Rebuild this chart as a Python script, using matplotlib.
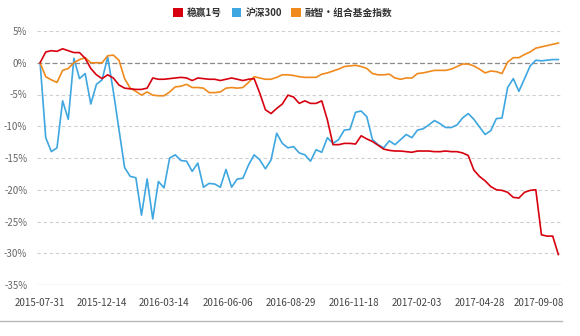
import matplotlib
matplotlib.use("Agg")
import matplotlib.pyplot as plt
from matplotlib.patches import Patch
from matplotlib.lines import Line2D

plt.rcParams['font.family'] = ['Noto Sans CJK SC', 'DejaVu Sans']

series_names = ["稳赢1号", "沪深300", "融智·组合基金指数"]

wenying = [0, 1.7, 1.9, 1.8, 2.2, 1.9, 1.6, 1.6, 0.7, -0.9,
           -1.9, -2.5, -1.9, -2.4, -3.5, -4.0, -4.1, -4.2, -4.2, -4.0,
           -2.4, -2.6, -2.6, -2.5, -2.4, -2.3, -2.4, -2.8, -2.4, -2.5,
           -2.6, -2.6, -2.8, -2.6, -2.4, -2.6, -2.8, -2.6, -2.5, -4.8,
           -7.4, -8.0, -7.2, -6.5, -5.1, -5.4, -6.4, -6.0, -6.4, -6.4,
           -6.0, -9.0, -12.9, -12.9, -12.7, -12.7, -12.8, -11.5, -12.0, -12.4,
           -13.0, -13.6, -13.8, -13.9, -13.9, -14.0, -14.1, -13.9, -13.9, -13.9,
           -14.0, -14.0, -13.9, -14.0, -14.0, -14.2, -14.6, -16.9, -17.9, -18.6,
           -19.5, -20.0, -20.1, -20.4, -21.2, -21.3, -20.4, -20.1, -20.0, -27.1,
           -27.3, -27.3, -30.2]

hs300 = [0, -11.8, -14.0, -13.4, -6.0, -8.9, 0.7, -2.5, -1.7, -6.5,
         -3.4, -2.7, 0.9, -4.5, -10.5, -16.5, -17.9, -18.1, -24.0, -18.3,
         -24.6, -18.7, -19.7, -15.0, -14.5, -15.4, -15.5, -17.1, -15.8, -19.6,
         -19.0, -19.1, -19.6, -16.8, -19.6, -18.3, -18.2, -16.1, -14.5, -15.3,
         -16.7, -15.3, -11.1, -12.7, -13.4, -13.2, -14.2, -14.5, -15.5, -13.7,
         -14.1, -11.8, -12.7, -12.1, -10.6, -10.5, -7.8, -7.6, -8.5, -12.1,
         -12.9, -13.4, -12.3, -12.9, -12.1, -11.3, -11.8, -10.6, -10.4, -9.8,
         -9.1, -9.6, -10.2, -10.2, -9.8, -8.7, -8.0, -8.9, -10.1, -11.3,
         -10.7, -8.8, -8.7, -3.9, -2.5, -4.5, -2.5, -0.5, 0.4, 0.3,
         0.4, 0.5, 0.5]

fof_index = [0, -2.2, -2.7, -3.1, -1.2, -0.9, 0, 0.5, 0.8, 0,
             0, 0, 1.1, 1.2, 0.4, -2.5, -4.0, -4.5, -5.1, -4.6,
             -5.1, -5.2, -5.2, -4.6, -3.8, -3.7, -3.4, -3.9, -3.9, -4.0,
             -4.7, -4.7, -4.6, -4.0, -3.9, -4.0, -3.9, -3.1, -2.2, -2.4,
             -2.6, -2.6, -2.3, -1.9, -1.9, -2.0, -2.2, -2.3, -2.3, -2.3,
             -1.8, -1.6, -1.3, -1.0, -0.6, -0.5, -0.4, -0.6, -0.9, -1.7,
             -1.9, -1.9, -1.8, -2.4, -2.6, -2.4, -2.4, -1.7, -1.6, -1.4,
             -1.2, -1.2, -1.2, -1.0, -0.6, -0.2, -0.2, -0.5, -1.0, -1.6,
             -1.3, -1.4, -1.7, 0.1, 0.8, 0.8, 1.3, 1.7, 2.3, 2.5,
             2.7, 2.9, 3.1]

tick_labels = ["2015-07-31", "2015-12-14", "2016-03-14", "2016-06-06", "2016-08-29",
               "2016-11-18", "2017-02-03", "2017-04-28", "2017-09-08"]
tick_positions = [0, 11, 22, 33.3, 44.6, 55.7, 66.8, 78, 88.5]

y_ticks = [5, 0, -5, -10, -15, -20, -25, -30, -35]

colors = ["#d7000f", "#3ea6e0", "#f08a1c"]

fig = plt.figure(figsize=(5.8, 3.36), dpi=100)
ax = fig.add_axes([37 / 580, 1 - 285 / 336, (562 - 37) / 580, (285 - 31) / 336])

x = list(range(len(wenying)))

# grid lines
for yv in y_ticks:
    if yv == 0:
        ax.axhline(yv, color="#8a8a8a", lw=0.9, ls=(0, (4, 2)), zorder=1)
    elif yv == -35:
        ax.axhline(yv, color="#dcdcdc", lw=1.0, ls="-", zorder=1)
    else:
        ax.axhline(yv, color="#cfcfcf", lw=0.8, ls=(0, (3, 2.5)), zorder=1)

ax.plot(x, hs300, color=colors[1], lw=1.2, zorder=3)
ax.plot(x, fof_index, color=colors[2], lw=1.2, zorder=4)
ax.plot(x, wenying, color=colors[0], lw=1.2, zorder=5)

ax.set_xlim(-0.55, len(x) - 1 + 0.65)
ax.set_ylim(-35, 5)

ax.set_yticks(y_ticks)
ax.set_yticklabels([f"{v}%" for v in y_ticks])
ax.set_xticks(tick_positions)
ax.set_xticklabels(tick_labels)

ax.tick_params(axis="y", length=0, pad=7, labelsize=7, labelcolor="#666666")
ax.tick_params(axis="x", length=0, pad=9.5, labelsize=7, labelcolor="#444444")

for s in ax.spines.values():
    s.set_visible(False)

# bottom separator line
fig.add_artist(Line2D([0, 562 / 580], [1 - 321 / 336] * 2, color="#b8b8b8", lw=1.0,
                      transform=fig.transFigure))

handles = [Patch(facecolor=c, edgecolor="none") for c in colors]
fig.legend(handles, series_names, loc="center", bbox_to_anchor=(0.488, 1 - 13 / 336),
           ncol=3, frameon=False, handlelength=1.0, handleheight=1.0,
           handletextpad=0.4, columnspacing=1.0,
           prop={"size": 7, "weight": "bold"}, labelcolor="#333333")

fig.savefig("out.png", dpi=100)
